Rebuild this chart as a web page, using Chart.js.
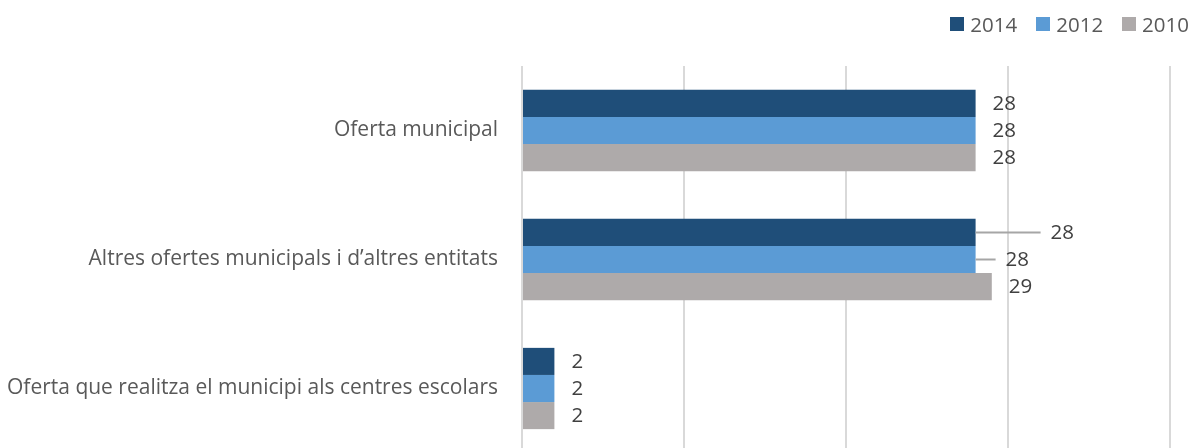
<!DOCTYPE html>
<html>
<head>
<meta charset="utf-8">
<script src="https://cdn.jsdelivr.net/npm/chart.js@4"></script>
<style>
  html, body { margin: 0; padding: 0; background: #fff; overflow: hidden; }
  #wrap { position: relative; width: 1192px; height: 448px; overflow: hidden; }
  #legend { position: absolute; top: 10px; right: 3px; display: flex; font: 20.5px "Open Sans", sans-serif; color: #595959; }
  #legend .item { display: flex; align-items: center; margin-left: 19px; }
  #legend .box { width: 14px; height: 14px; margin-right: 6px; }
  #chart { display: block; }
</style>
</head>
<body>
<div id="wrap">
  <div id="legend"></div>
  <canvas id="chart" width="1192" height="453"></canvas>
</div>
<script>
const categories = [
  'Oferta municipal',
  'Altres ofertes municipals i d\u2019altres entitats',
  'Oferta que realitza el municipi als centres escolars'
];
const seriesNames = ['2014', '2012', '2010'];
const values2014 = [28, 28, 2];
const values2012 = [28, 28, 2];
const values2010 = [28, 29, 2];
const colors = ['#1f4e79', '#5b9bd5', '#aeaaaa'];

// extra push of a few labels to the right (drawn with a leader line)
const labelShift = [[0, 58, 0], [0, 13, 0], [0, 0, 0]];

const legend = document.getElementById('legend');
seriesNames.forEach((name, i) => {
  const item = document.createElement('div');
  item.className = 'item';
  item.innerHTML = `<span class="box" style="background:${colors[i]}"></span>${name}`;
  legend.appendChild(item);
});

const valueLabels = {
  id: 'valueLabels',
  afterDatasetsDraw(chart) {
    const ctx = chart.ctx;
    ctx.save();
    ctx.font = '20.5px "Open Sans", sans-serif';
    ctx.fillStyle = '#404040';
    ctx.textBaseline = 'middle';
    ctx.textAlign = 'left';
    chart.data.datasets.forEach((ds, di) => {
      chart.getDatasetMeta(di).data.forEach((bar, i) => {
        const shift = labelShift[di][i];
        const x = bar.x + 17 + shift;
        if (shift > 0) {
          ctx.strokeStyle = '#a6a6a6';
          ctx.lineWidth = 2;
          ctx.beginPath();
          ctx.moveTo(bar.x, bar.y);
          ctx.lineTo(x - 10, bar.y);
          ctx.stroke();
        }
        ctx.fillText(String(ds.data[i]), x, bar.y + 1);
      });
    });
    ctx.restore();
  }
};

const canvas = document.getElementById('chart');
new Chart(canvas, {
  type: 'bar',
  data: {
    labels: categories,
    datasets: [
      { label: seriesNames[0], data: values2014, backgroundColor: colors[0] },
      { label: seriesNames[1], data: values2012, backgroundColor: colors[1] },
      { label: seriesNames[2], data: values2010, backgroundColor: colors[2] }
    ]
  },
  options: {
    indexAxis: 'y',
    responsive: false,
    animation: false,
    layout: { padding: { top: 66, right: 22, bottom: 0, left: 0 } },
    datasets: { bar: { categoryPercentage: 0.63, barPercentage: 1 } },
    scales: {
      x: {
        min: 0, max: 40,
        afterFit(scale) { scale.height = 0; },
        ticks: { display: false, stepSize: 10 },
        grid: { color: '#d9d9d9', lineWidth: 2, drawTicks: false },
        border: { display: false }
      },
      y: {
        afterFit(scale) {
          scale.width = 522;
          scale.paddingTop = 0;
          scale.paddingBottom = 0;
        },
        ticks: { color: '#595959', padding: 24, font: { family: 'Open Sans', size: 21 } },
        grid: { display: false, drawTicks: false },
        border: { display: false }
      }
    },
    plugins: { legend: { display: false }, tooltip: { enabled: false } }
  },
  plugins: [valueLabels]
});
</script>
</body>
</html>
